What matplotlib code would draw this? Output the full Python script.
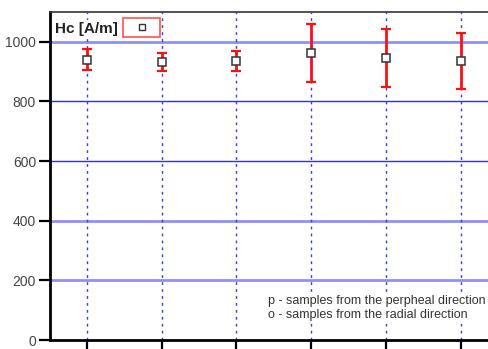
"""Coercivity Hc per sample with error bars."""

import matplotlib.pyplot as plt
from matplotlib.patches import Rectangle

plt.rcParams['font.family'] = ['Liberation Sans', 'DejaVu Sans']

samples = [1, 2, 3, 4, 5, 6]
hc_mean = [940, 931, 936, 962, 946, 936]
hc_err = [35, 30, 34, 97, 96, 95]
y_ticks = [0, 200, 400, 600, 800, 1000]
grid_colors = {200: '#9090f8', 400: '#9090f8', 600: '#3030e0', 800: '#3030e0', 1000: '#9090f8'}
grid_widths = {200: 2.0, 400: 2.0, 600: 1.0, 800: 1.0, 1000: 2.0}
note_lines = ['p - samples from the perpheal direction',
              'o - samples from the radial direction']

fig = plt.figure(figsize=(4.88, 3.49), dpi=100, facecolor='white')
ax = fig.add_axes([50 / 488, 9 / 349, 438 / 488, 328 / 349])

ax.set_xlim(0.51, 6.36)
ax.set_ylim(0, 1100)

for v in y_ticks[1:]:
    ax.axhline(v, color=grid_colors[v], lw=grid_widths[v], zorder=1)
for s in samples:
    ax.axvline(s, color='#3a3af0', lw=1.0, ls=(0, (2, 3)), zorder=1)

ax.errorbar(samples, hc_mean, yerr=hc_err, fmt='none', ecolor='#ff1010',
            elinewidth=2, capsize=3.5, capthick=1.6, zorder=3)
ax.plot(samples, hc_mean, ls='none', marker='s', ms=5.5, mfc='white',
        mec='#333333', mew=1.1, zorder=4)

ax.set_xticks(samples)
ax.set_xticklabels([])
ax.set_yticks(y_ticks)
ax.tick_params(axis='x', direction='out', length=9, width=1.6, color='black')
ax.tick_params(axis='y', direction='out', length=8, width=1.6, color='black',
               labelsize=10, labelcolor='#444444', pad=2)

ax.spines['left'].set_linewidth(2)
ax.spines['bottom'].set_linewidth(2)
ax.spines['top'].set_color('#333333')
ax.spines['top'].set_linewidth(1.2)
ax.spines['right'].set_visible(False)

# legend: title text plus a small red-framed key box
ax.text(5 / 438, 0.949, 'Hc [A/m]', transform=ax.transAxes, fontsize=11,
        fontweight='bold', color='#222222', va='center', ha='left',
        bbox=dict(facecolor='white', edgecolor='none', pad=1), zorder=5)
ax.add_patch(Rectangle((73 / 438, 0.925), 37 / 438, 19 / 328,
                       transform=ax.transAxes, facecolor='white',
                       edgecolor='#ff5050', lw=1.2, zorder=5))
ax.plot([91.5 / 438], [0.955], transform=ax.transAxes, ls='none', marker='s',
        ms=4.5, mfc='white', mec='#333333', mew=1, zorder=6)

ax.text(0.498, 0.098, '\n'.join(note_lines), transform=ax.transAxes,
        fontsize=9, color='#333333', va='center', ha='left', linespacing=1.2,
        bbox=dict(facecolor='white', edgecolor='none', pad=2), zorder=5)

fig.savefig('out.png', dpi=100)
